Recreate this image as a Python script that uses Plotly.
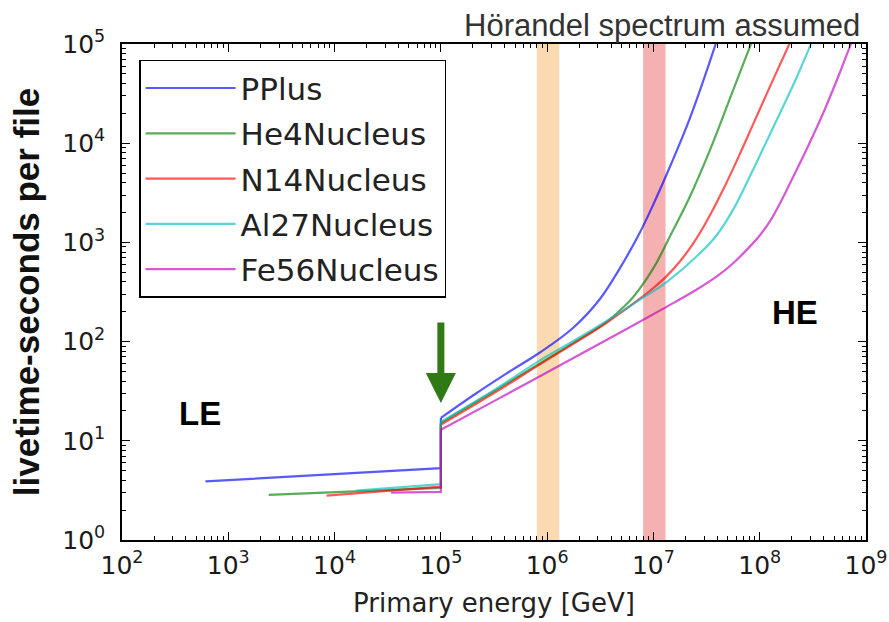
import plotly.graph_objects as go

# ---------------- data ----------------
species = ["PPlus", "He4Nucleus", "N14Nucleus", "Al27Nucleus", "Fe56Nucleus"]
colors = ["rgba(0,0,255,0.65)", "rgba(0,128,0,0.65)", "rgba(255,0,0,0.65)",
          "rgba(0,191,191,0.65)", "rgba(191,0,191,0.65)"]

# low-energy (LE) datasets: energy [GeV], livetime [s]
le_energy = {
    "PPlus": [610, 1e5],
    "He4Nucleus": [2.4e3, 1e5],
    "N14Nucleus": [8.4e3, 1e5],
    "Al27Nucleus": [1.6e4, 1e5],
    "Fe56Nucleus": [3.4e4, 1e5],
}
le_livetime = {
    "PPlus": [3.9, 5.3],
    "He4Nucleus": [2.85, 3.35],
    "N14Nucleus": [2.8, 3.45],
    "Al27Nucleus": [3.15, 3.65],
    "Fe56Nucleus": [3.0, 3.05],
}

# high-energy (HE) datasets
he_energy = {
    "PPlus": [1e5, 2.02e5, 4.16e5, 8.55e5, 1.76e6, 3.14e6, 4.84e6, 7.46e6, 9.95e6,
              1.48e7, 2.20e7, 3.78e7, 3.98e7],
    "He4Nucleus": [1e5, 3.16e5, 8.55e5, 1.78e6, 3.63e6, 5.01e6, 6.46e6, 1e7, 1.43e7,
                   2.20e7, 3.40e7, 5.24e7, 8.09e7, 8.71e7],
    "N14Nucleus": [1e5, 3.16e5, 8.55e5, 1.78e6, 3.63e6, 7.41e6, 1e7, 1.33e7, 1.78e7,
                   2.37e7, 3.16e7, 4.47e7, 6.31e7, 8.91e7, 1.26e8, 1.85e8, 2.0e8],
    "Al27Nucleus": [1e5, 3.16e5, 8.55e5, 1.78e6, 3.63e6, 7.41e6, 1.33e7, 2.74e7,
                    3.98e7, 5.62e7, 8.91e7, 1.34e8, 2.22e8, 2.96e8, 3.16e8],
    "Fe56Nucleus": [1e5, 3.16e5, 8.55e5, 3.14e6, 1.33e7, 2.51e7, 3.98e7, 5.62e7,
                    7.94e7, 1e8, 1.26e8, 1.58e8, 2.0e8, 2.82e8, 3.98e8, 5.62e8,
                    7.05e8, 7.59e8],
}
he_livetime = {
    "PPlus": [17.0, 28.8, 47.9, 77.6, 138, 269, 550, 1259, 2399, 6310, 17783,
              94000, 112000],
    "He4Nucleus": [15.1, 31.6, 60.3, 97.7, 158, 214, 282, 550, 1148, 2884, 8511,
                   28184, 94000, 115000],
    "N14Nucleus": [14.5, 30.2, 58.9, 95.5, 155, 269, 347, 457, 646, 977, 1622,
                   3311, 7244, 16600, 38019, 94000, 112000],
    "Al27Nucleus": [15.5, 32.4, 64.6, 102, 162, 263, 398, 776, 1202, 2138, 5754,
                    14454, 45709, 94000, 112000],
    "Fe56Nucleus": [12.9, 25.1, 44.7, 95.5, 224, 331, 457, 617, 891, 1175, 1660,
                    2570, 4270, 9120, 20420, 50100, 94000, 115000],
}

# highlighted energy bands [GeV]
band_lo = [8.0e5, 8.0e6]
band_hi = [1.3e6, 1.3e7]
band_colors = ["rgba(245,160,60,0.4)", "rgba(230,60,60,0.4)"]

x_tickvals = [1e2, 1e3, 1e4, 1e5, 1e6, 1e7, 1e8, 1e9]
x_ticktext = ["10<sup>2</sup>", "10<sup>3</sup>", "10<sup>4</sup>", "10<sup>5</sup>",
              "10<sup>6</sup>", "10<sup>7</sup>", "10<sup>8</sup>", "10<sup>9</sup>"]
y_tickvals = [1, 10, 100, 1e3, 1e4, 1e5]
y_ticktext = ["10<sup>0</sup>", "10<sup>1</sup>", "10<sup>2</sup>", "10<sup>3</sup>",
              "10<sup>4</sup>", "10<sup>5</sup>"]

# ---------------- figure ----------------
fig = go.Figure()
for name, col in zip(species, colors):
    # LE branch plus the jump at the LE/HE boundary
    fig.add_trace(go.Scatter(
        x=le_energy[name] + he_energy[name][:1],
        y=le_livetime[name] + he_livetime[name][:1],
        mode="lines", name=name, legendgroup=name,
        line=dict(color=col, width=2.2),
    ))
    # HE branch (smooth curve)
    fig.add_trace(go.Scatter(
        x=he_energy[name], y=he_livetime[name],
        mode="lines", name=name, legendgroup=name, showlegend=False,
        line=dict(color=col, width=2.2, shape="spline", smoothing=1.0),
    ))

for lo, hi, bc in zip(band_lo, band_hi, band_colors):
    fig.add_shape(type="rect", xref="x", yref="paper", x0=lo, x1=hi, y0=0, y1=1,
                  fillcolor=bc, line_width=0, layer="below")

font_main = "DejaVu Sans"
axis_common = dict(
    type="log", showline=True, linecolor="black", linewidth=1.5, mirror="ticks",
    ticks="inside", ticklen=8, tickwidth=1, tickcolor="black",
    showgrid=False, zeroline=False, automargin=False,
    tickfont=dict(family=font_main, size=25, color="#1a1a1a"),
    tickmode="array",
)
fig.update_xaxes(
    **axis_common, range=[2, 9], tickvals=x_tickvals, ticktext=x_ticktext,
    ticklabelstandoff=2,
    minor=dict(ticks="inside", ticklen=4, tickcolor="black", dtick="D1",
               tickmode="linear", showgrid=False),
    title=dict(text="Primary energy [GeV]", standoff=15,
               font=dict(family=font_main, size=26, color="#222")),
)
fig.update_yaxes(
    **axis_common, range=[0, 5], tickvals=y_tickvals, ticktext=y_ticktext,
    ticklabelstandoff=10,
    minor=dict(ticks="inside", ticklen=4, tickcolor="black", dtick="D1",
               tickmode="linear", showgrid=False),
    title=dict(text="<b>livetime-seconds per file</b>", standoff=12,
               font=dict(family="Liberation Sans", size=35, color="#111")),
)

fig.add_annotation(x=5, y=1.381, xref="x", yref="y", text="", showarrow=True,
                   ax=0, ay=-82, arrowhead=2, arrowwidth=7, arrowsize=0.86,
                   arrowcolor="#2f7a14", standoff=0)
fig.add_annotation(x=2.73, y=1.28, xref="x", yref="y", text="<b>LE</b>",
                   showarrow=False,
                   font=dict(family="Liberation Sans", size=33, color="black"))
fig.add_annotation(x=8.33, y=2.29, xref="x", yref="y", text="<b>HE</b>",
                   showarrow=False,
                   font=dict(family="Liberation Sans", size=33, color="black"))
fig.add_annotation(x=0.995, y=1.038, xref="paper", yref="paper",
                   xanchor="right", yanchor="middle",
                   text="Hörandel spectrum assumed", showarrow=False,
                   font=dict(family="Liberation Sans", size=31, color="#333"))

fig.update_layout(
    width=889, height=622,
    margin=dict(l=122, r=23, t=44, b=82),
    plot_bgcolor="white", paper_bgcolor="white",
    legend=dict(x=0.023, y=0.968, xanchor="left", yanchor="top",
                bgcolor="white", bordercolor="black", borderwidth=1.5,
                font=dict(family=font_main, size=31, color="#222"),
                itemwidth=90, tracegroupgap=2),
    showlegend=True,
)

fig.write_html(
    "out.html",
    config={"displayModeBar": False},
    post_script="document.body.style.margin='0px';document.body.style.overflow='hidden';",
)
